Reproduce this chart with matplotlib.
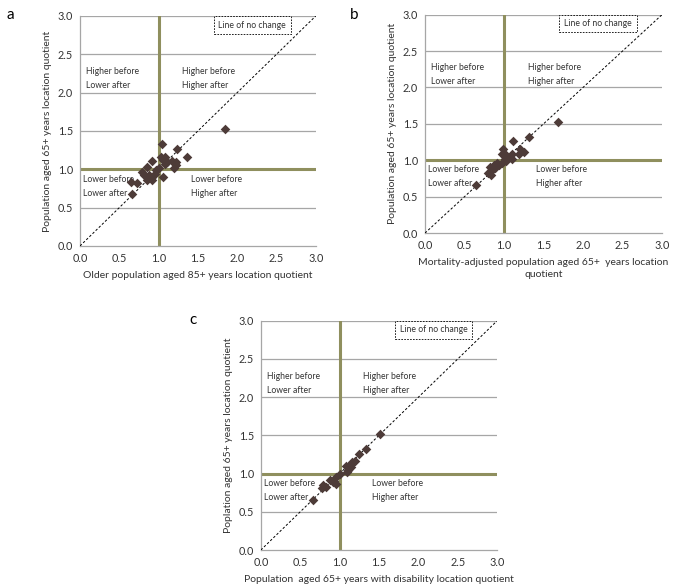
import numpy as np
import matplotlib
import matplotlib.pyplot as plt
from matplotlib.patches import Rectangle

# fonts
matplotlib.rc('font', family='Lato', size=7)

# panel a: older population aged 85+ vs population aged 65+
a_x = [1.85, 1.04, 1.23, 1.36, 1.03, 1.08, 0.91, 1.06, 1.17, 1.22, 1.22, 1.19,
       1.08, 1.06, 0.85, 1.00, 0.79, 0.82, 0.86, 0.91, 0.96, 0.97, 0.91, 0.85,
       0.65, 0.72, 0.66, 0.88, 1.10]
a_y = [1.53, 1.33, 1.27, 1.16, 1.16, 1.16, 1.11, 1.12, 1.11, 1.09, 1.05, 1.02,
       1.07, 0.90, 1.03, 1.01, 0.96, 0.93, 0.90, 0.90, 0.94, 0.99, 0.86, 0.86,
       0.83, 0.82, 0.68, 0.92, 1.10]

# panel b: mortality-adjusted population aged 65+
b_x = [1.68, 1.31, 1.12, 0.99, 0.98, 1.10, 1.20, 1.25, 1.19, 1.03, 1.08, 1.10,
       1.01, 0.98, 0.94, 0.87, 0.82, 0.91, 0.85, 0.80, 0.83, 0.65, 0.89, 1.03]
b_y = [1.52, 1.32, 1.26, 1.15, 1.09, 1.09, 1.15, 1.12, 1.08, 1.07, 1.04, 1.02,
       1.02, 0.96, 0.93, 0.93, 0.91, 0.96, 0.86, 0.82, 0.80, 0.66, 0.89, 0.99]

# panel c: population aged 65+ with disability
c_x = [1.51, 1.33, 1.25, 1.20, 1.16, 1.13, 1.08, 1.11, 1.09, 1.14, 1.00, 0.95,
       0.88, 0.93, 0.95, 0.79, 0.77, 0.82, 0.66, 0.91]
c_y = [1.52, 1.32, 1.26, 1.16, 1.15, 1.11, 1.10, 1.05, 1.02, 1.08, 1.00, 0.96,
       0.92, 0.90, 0.86, 0.85, 0.81, 0.82, 0.66, 0.89]

ticks = [0.0, 0.5, 1.0, 1.5, 2.0, 2.5, 3.0]

# colors
grid_col = '#a6a6a6'
olive = '#8f8f5e'
marker_col = '#4d3b38'
text_col = '#333333'


def draw_panel(ax, x, y, xlabel, ylabel):
    '''
        Draw one quadrant scatter panel
    '''
    ax.set_xlim(0, 3)
    ax.set_ylim(0, 3)
    ax.set_xticks(ticks)
    ax.set_yticks(ticks)
    ax.set_xticklabels(['%.1f' % t for t in ticks])
    ax.set_yticklabels(['%.1f' % t for t in ticks])

    # horizontal grid lines
    for t in ticks[1:]:
        ax.axhline(t, color=grid_col, lw=0.9, zorder=1)

    # quadrant lines
    ax.axvline(1.0, color=olive, lw=2.2, zorder=2)
    ax.axhline(1.0, color=olive, lw=2.2, zorder=2)

    # line of no change
    ax.plot([0, 3], [0, 3], color='black', lw=0.7, ls=(0, (2.5, 2)), zorder=3)

    # data
    ax.scatter(x, y, marker='D', s=24, color=marker_col, zorder=4, linewidths=0)

    for s in ['top', 'right']:
        ax.spines[s].set_visible(False)
    for s in ['left', 'bottom']:
        ax.spines[s].set_color(grid_col)
        ax.spines[s].set_linewidth(0.9)
    ax.tick_params(length=0, labelsize=7.8, labelcolor=text_col, pad=5)

    # quadrant texts
    kw = dict(fontsize=6.2, va='center', linespacing=1.75, color=text_col)
    ax.text(0.08, 2.18, 'Higher before\nLower after', **kw)
    ax.text(1.30, 2.18, 'Higher before\nHigher after', **kw)
    ax.text(0.04, 0.78, 'Lower before\nLower after', **kw)
    ax.text(1.41, 0.78, 'Lower before\nHigher after', **kw)

    # legend box
    ax.add_patch(Rectangle((1.70, 2.76), 0.98, 0.235, fc='white', ec='black',
        ls=(0, (2, 1.5)), lw=0.6, zorder=5, clip_on=False))
    ax.text(2.19, 2.877, 'Line of no change', fontsize=6.2, ha='center',
        va='center', color=text_col, zorder=6)

    ax.set_xlabel(xlabel, fontsize=7.5, color=text_col, labelpad=5,
        linespacing=1.5)
    ax.set_ylabel(ylabel, fontsize=7.5, color=text_col, labelpad=4)


# create the figure
fig = plt.figure(figsize=(6.74, 5.87), dpi=100)

ax_a = fig.add_axes([0.1187, 0.581, 0.350, 0.392])
ax_b = fig.add_axes([0.6306, 0.603, 0.3516, 0.372])
ax_c = fig.add_axes([0.387, 0.063, 0.351, 0.391])

draw_panel(ax_a, a_x, a_y,
    'Older population aged 85+ years location quotient',
    'Population aged 65+ years location quotient')
draw_panel(ax_b, b_x, b_y,
    'Mortality-adjusted population aged 65+  years location\nquotient',
    'Population aged 65+ years location quotient')
draw_panel(ax_c, c_x, c_y,
    'Population  aged 65+ years with disability location quotient',
    'Poplation aged 65+ years location quotient')

# panel letters
fig.text(10 / 674, 1 - 15 / 587, 'a', fontsize=11, va='center', ha='center')
fig.text(354 / 674, 1 - 15 / 587, 'b', fontsize=11, va='center', ha='center')
fig.text(193 / 674, 1 - 320 / 587, 'c', fontsize=11, va='center', ha='center')

# save the figure
plt.savefig('out.png', dpi=100)
